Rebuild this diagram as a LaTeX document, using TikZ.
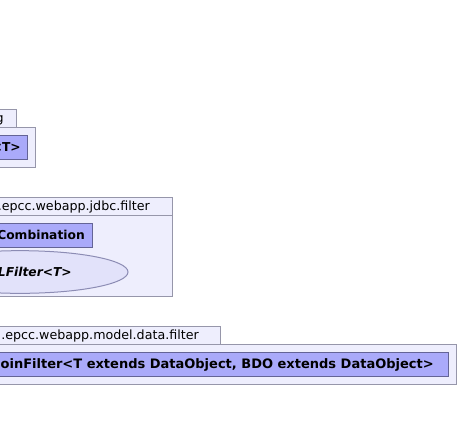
\documentclass[tikz,border=0pt]{standalone}
\usepackage{fontspec}
\setmainfont{DejaVu Sans}
\usetikzlibrary{shapes.geometric}

\definecolor{pkgfill}{RGB}{238,238,253}
\definecolor{pkgline}{RGB}{150,150,170}
\definecolor{clsfill}{RGB}{170,170,250}
\definecolor{clsline}{RGB}{100,100,150}
\definecolor{absfill}{RGB}{226,226,250}
\definecolor{absline}{RGB}{140,140,180}

\begin{document}
\begin{tikzpicture}[x=0.75pt, y=-0.75pt,
    % Package and class styles
    pkg/.style={draw=pkgline, fill=pkgfill, line width=0.75pt},
    cls/.style={draw=clsline, fill=clsfill, line width=0.75pt},
    absclass/.style={ellipse, draw=absline, fill=absfill, line width=0.75pt, inner sep=0pt},
    % Text styles
    pkgname/.style={anchor=base east, inner sep=0pt, font=\fontsize{9.5}{11}\selectfont},
    clsname/.style={anchor=base east, inner sep=0pt, font=\fontsize{9.2}{11}\selectfont\bfseries},
    absname/.style={anchor=base east, inner sep=0pt, font=\fontsize{9.2}{11}\selectfont\bfseries\itshape}
]
\useasboundingbox (0,0) rectangle (458,430);
\clip (0,0) rectangle (458,430);

% Package with the generic class
\draw[pkg] (-20,109) rectangle (16,127);
\draw[pkg] (-20,127) rectangle (35,167);
\draw[cls] (-20,135) rectangle (27,159);
\node[pkgname] (pkgA) at (4,122.5) {g};
\node[clsname] (genclass) at (21,151.5) {<T>};

% Package jdbc.filter
\draw[pkg] (-20,197) rectangle (172,215);
\draw[pkg] (-20,215) rectangle (172,296);
\draw[cls] (-20,223) rectangle (92,247);
\node[absclass, minimum width=162, minimum height=32] (sqlfilter) at (20,272) {};
\node[pkgname] (pkgB) at (150,210.5) {.epcc.webapp.jdbc.filter};
\node[clsname] (combination) at (85,239.5) {Combination};
\node[absname] (filtername) at (72,276.5) {LFilter<T>};

% Package model.data.filter
\draw[pkg] (-20,326) rectangle (220,344);
\draw[pkg] (-20,344) rectangle (456,384);
\draw[cls] (-20,352) rectangle (448,376);
\node[pkgname] (pkgC) at (199,339.5) {.epcc.webapp.model.data.filter};
\node[clsname, font=\fontsize{9.75}{11}\selectfont\bfseries] (joinfilter) at (434,368.5) {oinFilter<T extends DataObject, BDO extends DataObject>};

\end{tikzpicture}
\end{document}
